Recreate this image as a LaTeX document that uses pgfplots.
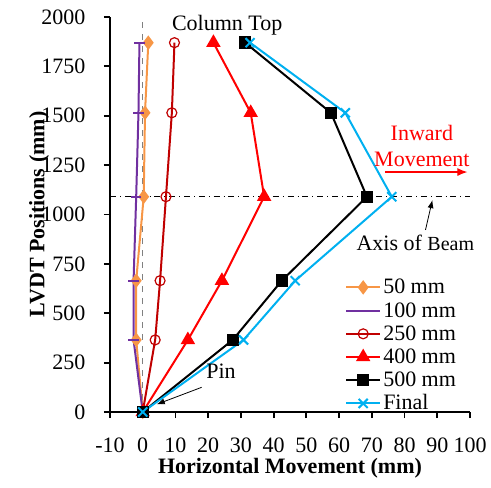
\documentclass[border=0pt]{standalone}
\usepackage{fontspec}
\setmainfont{Liberation Serif}
\usepackage{pgfplots}
\pgfplotsset{compat=1.18}
\usetikzlibrary{arrows.meta}
\definecolor{cOrange}{HTML}{F79646}
\definecolor{cPurple}{HTML}{7030A0}
\definecolor{cDark}{HTML}{C00000}
\definecolor{cRed}{HTML}{FF0000}
\definecolor{cCyan}{HTML}{00B0F0}
\begin{document}
\fontsize{11}{13}\selectfont
\begin{tikzpicture}
\begin{axis}[
  scale only axis, width=180pt, height=197.5pt,
  xmin=-10, xmax=100, ymin=0, ymax=2000,
  axis x line=bottom, axis y line=left,
  axis line style={-, line width=0.9pt, black},
  xtick={-10,0,...,100}, ytick={0,250,...,2000},
  tick align=outside, major tick length=3pt,
  tick style={line width=0.9pt, black},
  /pgf/number format/assume math mode=true,
  /pgf/number format/1000 sep={},
  ticklabel style={font=\fontsize{11}{13}\selectfont},
  yticklabel style={anchor=east, xshift=-5.5pt},
  xticklabel style={anchor=north, yshift=-6pt},
  xlabel={\textbf{Horizontal Movement (mm)}},
  ylabel={\textbf{LVDT Positions (mm)}},
  xlabel style={at={(axis description cs:0.5,0)}, anchor=center, yshift=-28pt},
  ylabel style={at={(axis description cs:0,0.5)}, anchor=center, rotate=0, yshift=35.5pt},
  clip=false,
  legend cell align=left,
  legend style={draw=none, fill=none, at={(rel axis cs:0.652,0.343)}, anchor=north west,
    inner sep=0pt, row sep=1.1pt, font=\fontsize{11}{13}\selectfont,
    nodes={inner sep=1pt, text height=7.5pt, text depth=1pt}},
]
\draw[gray, dashed, line width=0.5pt] (axis cs:0,0) -- (axis cs:0,2000);
\draw[black, dash dot, line width=0.4pt] (axis cs:-10,1090) -- (axis cs:100,1090);

\addplot[cOrange, line width=1pt, mark=diamond*, mark size=2.8pt, mark options={solid}]
  coordinates {(0,0) (-2.0,365) (-2.0,665) (0.3,1090) (0.7,1515) (1.7,1870)};
\addlegendentry{50 mm}
\addplot[cPurple, line width=1pt, mark=-, mark size=2.6pt, mark options={solid, line width=1pt}]
  coordinates {(0,0) (-2.8,365) (-2.8,665) (-2.0,1090) (-1.3,1515) (-1.0,1870)};
\addlegendentry{100 mm}
\addplot[cDark, line width=1pt, mark=o, mark size=2.5pt, mark options={solid, line width=0.6pt}]
  coordinates {(0,0) (3.8,365) (5.3,665) (7.1,1090) (8.9,1515) (9.7,1870)};
\addlegendentry{250 mm}
\addplot[cRed, line width=1pt, mark=triangle*, mark size=3.2pt, mark options={solid}]
  coordinates {(0,0) (13.8,365) (24.2,665) (37.1,1090) (33.0,1515) (21.6,1870)};
\addlegendentry{400 mm}
\addplot[black, line width=1pt, mark=square*, mark size=2.6pt, mark options={solid}]
  coordinates {(0,0) (27.5,365) (42.5,665) (68.5,1090) (57.5,1515) (31.3,1870)};
\addlegendentry{500 mm}
\addplot[cCyan, line width=1pt, mark=x, mark size=3.2pt, mark options={solid, line width=1pt}]
  coordinates {(0,0) (30.8,365) (46.6,665) (76.1,1090) (61.9,1515) (32.8,1870)};
\addlegendentry{Final}

\node at (axis cs:25.8,1958) {Column Top};
\node[cRed, align=center, inner sep=0pt] at (axis cs:85.3,1346) {Inward\\Movement};
\draw[cRed, line width=0.6pt, -{Latex[length=5pt,width=4pt]}] (axis cs:74.1,1215) -- (axis cs:99.2,1215);
\node at (axis cs:83.3,857) {Axis of {\fontsize{10}{12}\selectfont Beam}};
\draw[black, line width=0.4pt, -{Latex[length=4pt,width=3pt]}] (axis cs:86.4,922) -- (axis cs:88.5,1073);
\node at (axis cs:23.9,205) {Pin};
\draw[black, line width=0.4pt, -{Latex[length=4pt,width=3pt]}] (axis cs:18.0,125) -- (axis cs:4.3,39);
\end{axis}
\pgfresetboundingbox
\path ([xshift=-55pt,yshift=-37.65pt]current axis.south west) rectangle ([xshift=10.5pt,yshift=8.5pt]current axis.north east);
\end{tikzpicture}
\end{document}
